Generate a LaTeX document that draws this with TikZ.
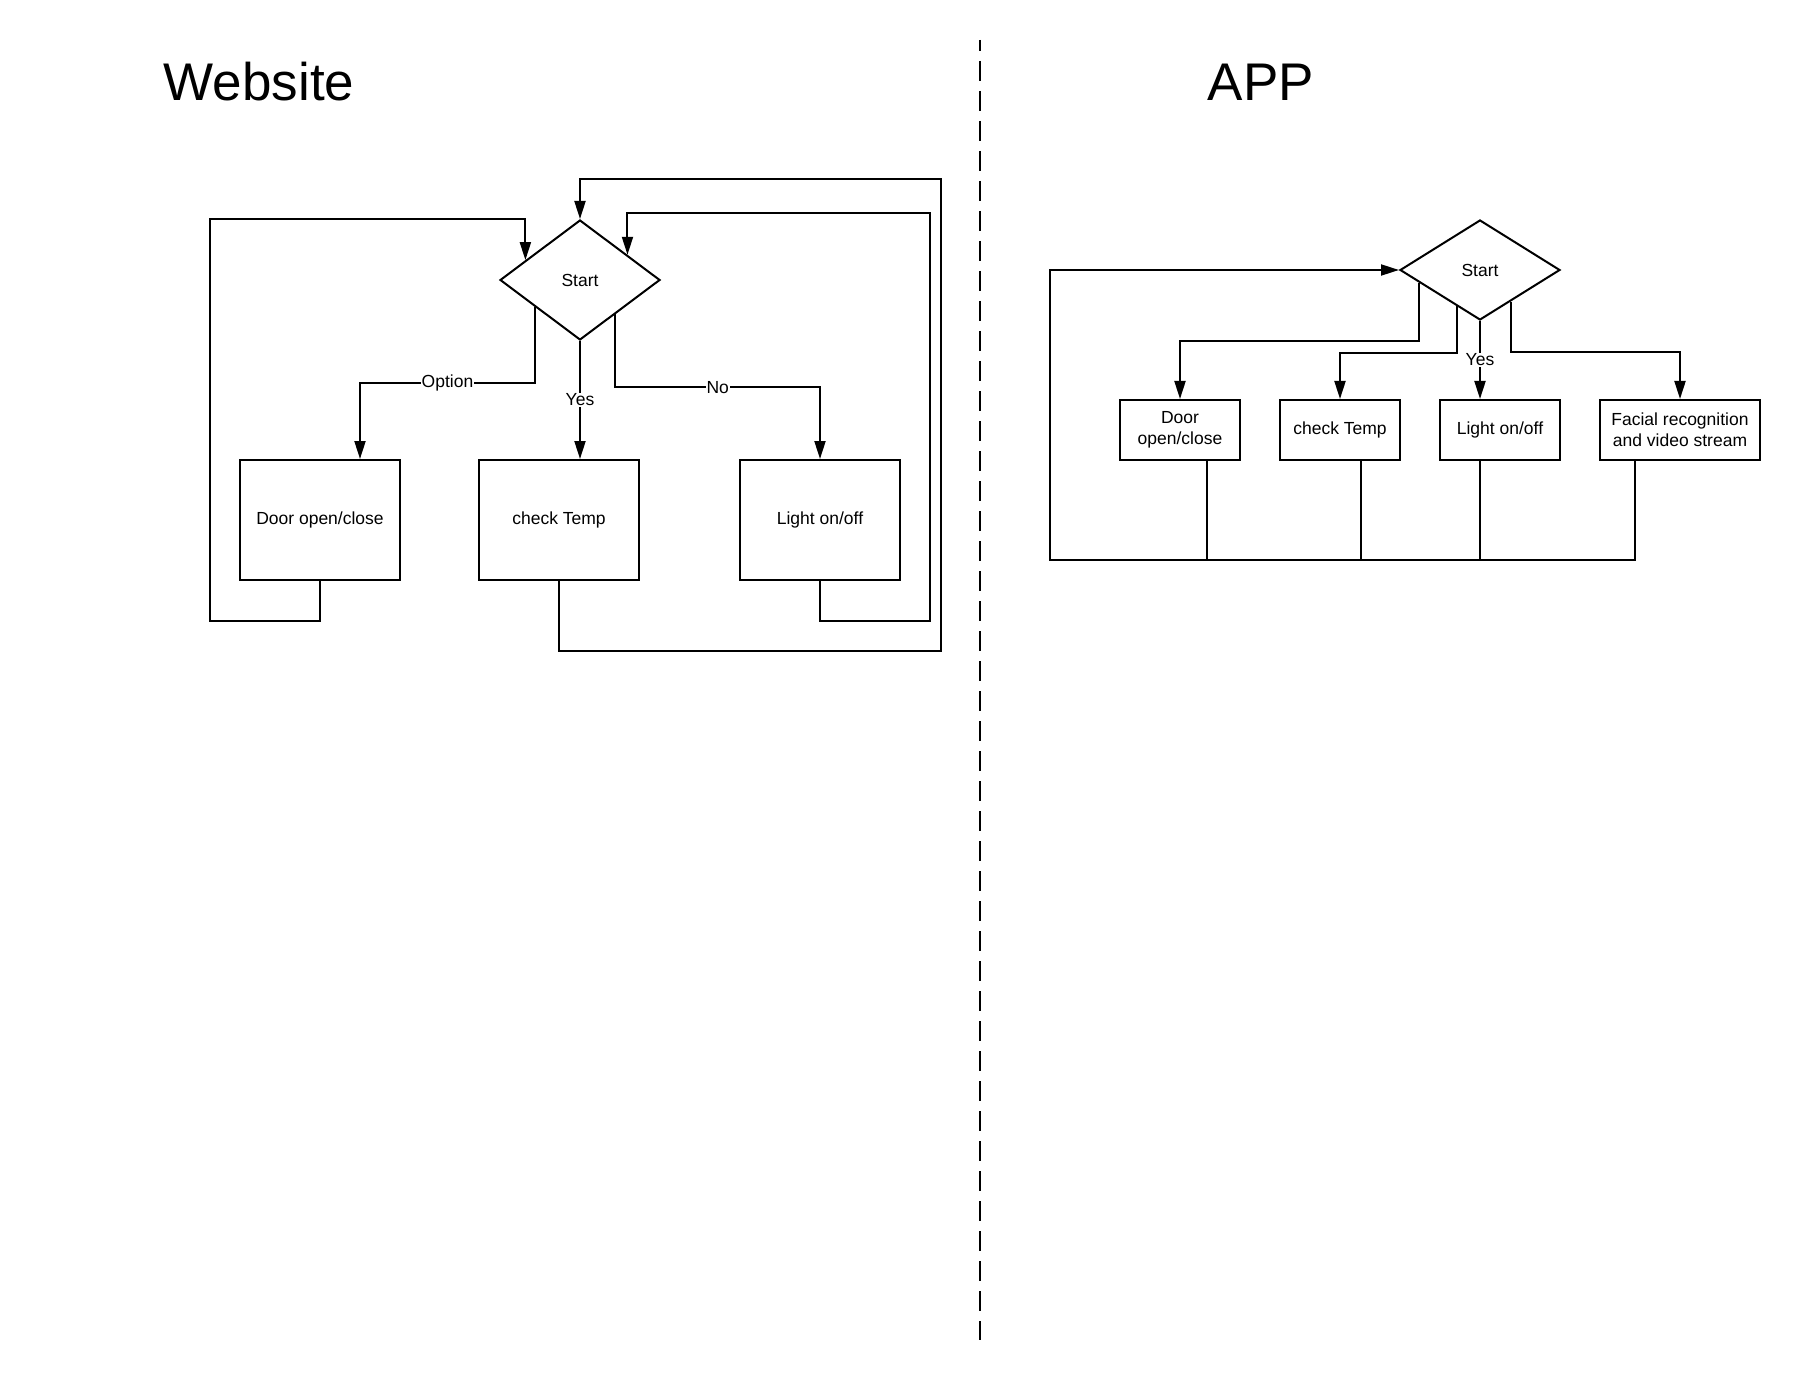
\documentclass[tikz,border=0pt]{standalone}
\usepackage{fontspec}
\setmainfont{Liberation Sans}
\usetikzlibrary{shapes.geometric,arrows.meta}
\newcommand\chartfont{\fontsize{17.5}{21}\selectfont}
\tikzset{
    boxW/.style     = {draw, line width=2pt, minimum width=160pt, minimum height=120pt, inner sep=0pt, align=center, font=\chartfont},
    boxA/.style     = {boxW, minimum width=120pt, minimum height=60pt},
    decision/.style = {draw, diamond, line width=2pt, inner sep=0pt, font=\chartfont},
    wire/.style     = {line width=2pt},
    flow/.style     = {wire, -{Triangle[length=18pt,width=11pt]}},
    lbl/.style      = {fill=white, inner sep=1pt, font=\chartfont},
    title/.style    = {anchor=base, font=\fontsize{53}{63}\selectfont}
}
\begin{document}
\begin{tikzpicture}[x=1pt, y=-1pt]
    \useasboundingbox (0,0) rectangle (1800,1380);

    \node[title] (titleW) at ( 259, 101) {Website};
    \node[title] (titleA) at (1261, 101) {APP};
    \draw[wire, dash pattern=on 20pt off 10pt, dash phase=9pt] (980,40) -- (980,1340);

    % website
    \node[decision, minimum width=160pt, minimum height=120pt] (startW) at (580,280) {Start};
    \node[boxW] (doorW)  at (320,520) {Door open/close};
    \node[boxW] (tempW)  at (559,520) {check Temp};
    \node[boxW] (lightW) at (820,520) {Light on/off};

    \draw[flow] (startW.211) -- ++(0,76) -| node[lbl, pos=0.25] {Option} ([xshift=40pt]doorW.north);
    \draw[flow] (startW.south) -- node[lbl] {Yes} (startW.south |- tempW.north);
    \draw[flow] (startW.316) -- ++(0,73) -| node[lbl, pos=0.25] {No} (lightW.north);

    \draw[flow] (doorW.south)  -- ++(0,40) -| ++(-110,-402) -| (startW.160);
    \draw[flow] (tempW.south)  -- ++(0,70) -| ++(382,-472)  -| (startW.north);
    \draw[flow] (lightW.south) -- ++(0,40) -| ++(110,-408)  -| (startW.28);

    % app
    \node[decision, minimum width=160pt, minimum height=100pt] (startA) at (1480,270) {Start};
    \node[boxA] (doorA)   at (1180,430) {Door\\open/close};
    \node[boxA] (tempA)   at (1340,430) {check Temp};
    \node[boxA] (lightA)  at (1500,430) {Light on/off};
    \node[boxA, minimum width=160pt] (facialA) at (1680,430) {Facial recognition\\and video stream};

    \draw[flow] (startA.192) -- ++(0,58) -| (doorA.north);
    \draw[flow] (startA.237) -- ++(0,47) -| (tempA.north);
    \draw[flow] (startA.south) -- node[lbl] {Yes} (startA.south |- lightA.north);
    \draw[flow] (startA.314) -- ++(0,50) -| (facialA.north);

    \draw[wire] ([xshift=27pt]doorA.south)  -- ++(0,99);
    \draw[wire] ([xshift=21pt]tempA.south)  -- ++(0,99);
    \draw[wire] ([xshift=-20pt]lightA.south) -- ++(0,99);
    \draw[flow] ([xshift=-45pt]facialA.south) -- ++(0,99) -| ++(-585,-290) -- (startA.west);
\end{tikzpicture}
\end{document}
